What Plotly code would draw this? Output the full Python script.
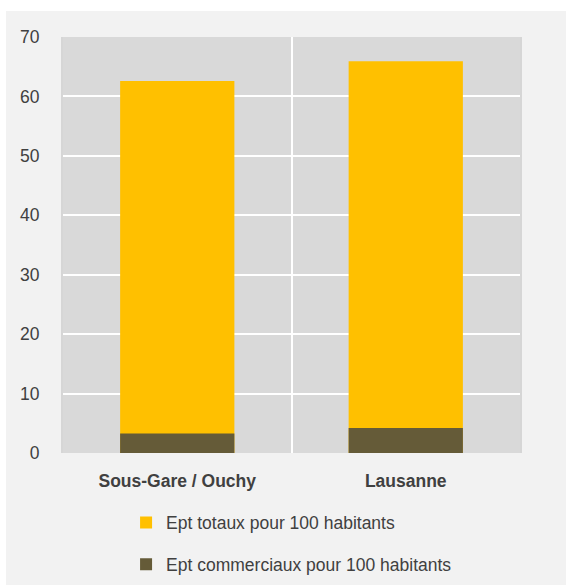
import plotly.graph_objects as go

categories = ["Sous-Gare / Ouchy", "Lausanne"]
ept_totaux = [62.6, 65.9]
ept_commerciaux = [3.3, 4.2]
series_names = ["Ept totaux pour 100 habitants", "Ept commerciaux pour 100 habitants"]
y_ticks = [0, 10, 20, 30, 40, 50, 60, 70]

W, H = 566, 585
ML, MR, MT, MB = 63, 46, 37, 132
pw = W - ML - MR
ph = H - MT - MB

fig = go.Figure()
fig.add_trace(go.Bar(x=categories, y=ept_totaux, name=series_names[0],
                     marker=dict(color="#FFC000", line=dict(width=0)),
                     legendgroup="a"))
fig.add_trace(go.Bar(x=categories, y=ept_commerciaux, name=series_names[1],
                     marker=dict(color="#655B38", line=dict(width=0)),
                     legendgroup="b"))

# white page border (top and left) around the grey chart area
fig.add_shape(type="rect", xref="paper", yref="paper", layer="below",
              x0=-(ML + 5) / pw, x1=(W + 5 - ML) / pw,
              y0=(H - MB - 11) / ph, y1=(H - MB + 5) / ph,
              fillcolor="white", line=dict(width=0))
fig.add_shape(type="rect", xref="paper", yref="paper", layer="below",
              x0=-(ML + 5) / pw, x1=(6 - ML) / pw,
              y0=-(MB + 5) / ph, y1=(H - MB + 5) / ph,
              fillcolor="white", line=dict(width=0))

font = "Liberation Sans, Arial, sans-serif"
fig.update_layout(
    width=W, height=H,
    margin=dict(l=ML, r=MR, t=MT, b=MB, autoexpand=False),
    paper_bgcolor="#F2F2F2",
    plot_bgcolor="#D9D9D9",
    barmode="overlay",
    bargap=0.5,
    font=dict(family=font, size=17.5, color="#404040"),
    showlegend=True,
    legend=dict(orientation="v", x=0.138, xanchor="left", y=-0.124, yanchor="top",
                bgcolor="rgba(0,0,0,0)", tracegroupgap=16,
                font=dict(size=17.5, color="#404040"), traceorder="grouped"),
    xaxis=dict(type="category", showgrid=True, gridcolor="white", gridwidth=1.5,
               tickson="boundaries", ticks="", ticklabelstandoff=15,
               automargin=False,
               tickfont=dict(family=font, size=17.5, color="#404040", weight="bold"),
               showline=False, zeroline=False),
    yaxis=dict(range=[0, 70], tickvals=y_ticks, showgrid=True, gridcolor="white",
               gridwidth=1.5, zeroline=False, ticks="outside", ticklen=18,
               tickcolor="rgba(0,0,0,0)", automargin=False,
               tickfont=dict(family=font, size=17.5, color="#404040"),
               showline=True, mirror=True, linecolor="#D6D6D6", linewidth=2),
)

fig.write_html("out.html", config={"displayModeBar": False},
               post_script="document.body.style.margin='0';")
